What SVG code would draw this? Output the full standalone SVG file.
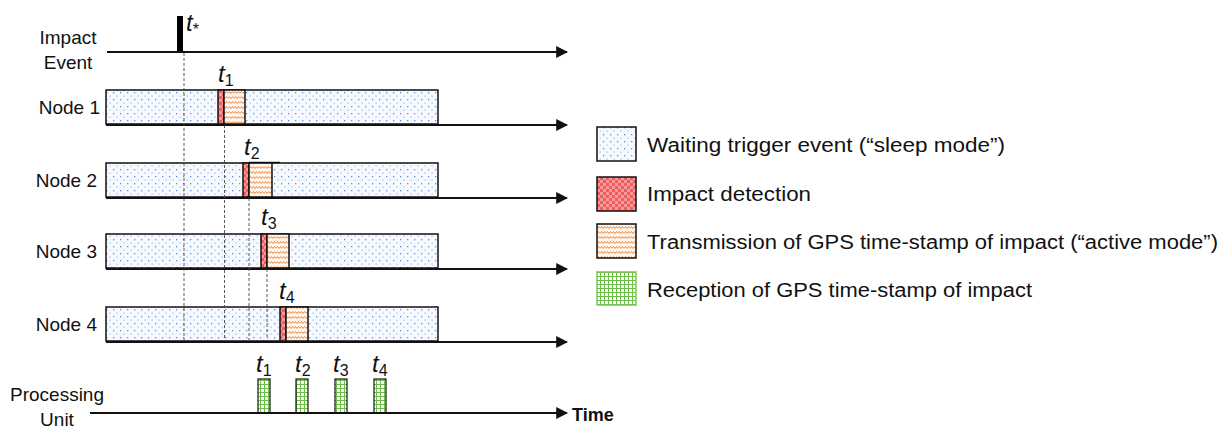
<svg xmlns="http://www.w3.org/2000/svg" width="1226" height="430" viewBox="0 0 1226 430">
<style>
.lbl{font-family:"Liberation Sans",Arial,sans-serif;font-size:19px;fill:#111}
.leg{font-family:"Liberation Sans",Arial,sans-serif;font-size:20px;fill:#111}
.tl{font-family:"Liberation Sans",Arial,sans-serif;font-style:italic;font-size:24px;fill:#111}
.sub{font-style:normal;font-size:16px}
.box{stroke:#111;stroke-width:1.5}
.sleep{fill:url(#pDots)}
.det{fill:url(#pRed)}
.tx{fill:url(#pWave)}
.rx{fill:url(#pGrid);stroke:#111;stroke-width:1.2}
.axis{stroke:#111;stroke-width:2;fill:none}
.dash{stroke:#444;stroke-width:0.9;stroke-dasharray:3 2;fill:none}
</style>
<defs>
<pattern id="pDots" width="7" height="7" patternUnits="userSpaceOnUse">
<rect width="7" height="7" fill="#f6f9fe"/>
<rect x="1" y="1" width="1.3" height="1.3" fill="#5f8fd8"/>
<rect x="4.5" y="4.5" width="1.2" height="1.2" fill="#9bb8e8"/>
</pattern>
<pattern id="pRed" width="6" height="6" patternUnits="userSpaceOnUse">
<rect width="6" height="6" fill="#f25b5b"/>
<rect width="3" height="3" fill="#f79a9a"/>
<rect x="3" y="3" width="3" height="3" fill="#f79a9a"/>
</pattern>
<pattern id="pWave" width="6" height="5" patternUnits="userSpaceOnUse">
<rect width="6" height="5" fill="#fff6ef"/>
<path d="M0 3.5 L1.5 1.5 L3 3.5 L4.5 1.5 L6 3.5" stroke="#ee8a3f" stroke-width="1" fill="none"/>
</pattern>
<pattern id="pGrid" width="4" height="4" patternUnits="userSpaceOnUse">
<rect width="4" height="4" fill="#fafff7"/>
<path d="M0 0.5 H4 M0.5 0 V4" stroke="#6cbd4a" stroke-width="1"/>
</pattern>
<marker id="arr" viewBox="0 0 10 10" refX="9" refY="5" markerWidth="6" markerHeight="6" orient="auto" markerUnits="strokeWidth">
<path d="M0 0 L10 5 L0 10 Z" fill="#111"/>
</marker>
</defs>

<g id="impact-event">
<text class="lbl" x="68" y="44" text-anchor="middle">Impact</text>
<text class="lbl" x="68" y="69" text-anchor="middle">Event</text>
<rect x="177" y="16" width="6" height="37" fill="#000"/>
<text class="tl" x="186" y="31">t<tspan class="sub" dy="4">*</tspan></text>
</g>

<g id="node1">
<text class="lbl" x="100" y="114" text-anchor="end">Node 1</text>
<rect class="box sleep" x="106" y="90" width="332" height="34"/>
<rect class="box det" x="218" y="90" width="6" height="34"/>
<rect class="box tx" x="224" y="90" width="21" height="34"/>
<text class="tl" x="218" y="82">t<tspan class="sub" dy="4">1</tspan></text>
</g>

<g id="node2">
<text class="lbl" x="97" y="187" text-anchor="end">Node 2</text>
<rect class="box sleep" x="106" y="163" width="332" height="34"/>
<rect class="box det" x="243" y="163" width="6" height="34"/>
<rect class="box tx" x="249" y="163" width="23" height="34"/>
<line x1="249" y1="162.5" x2="280" y2="162.5" stroke="#111" stroke-width="1.5"/>
<text class="tl" x="244" y="155">t<tspan class="sub" dy="4">2</tspan></text>
</g>

<g id="node3">
<text class="lbl" x="97" y="258" text-anchor="end">Node 3</text>
<rect class="box sleep" x="106" y="234" width="332" height="34"/>
<rect class="box det" x="261" y="234" width="6" height="34"/>
<rect class="box tx" x="267" y="234" width="22" height="34"/>
<text class="tl" x="261" y="225">t<tspan class="sub" dy="4">3</tspan></text>
</g>

<g id="node4">
<text class="lbl" x="97" y="331" text-anchor="end">Node 4</text>
<rect class="box sleep" x="106" y="307" width="332" height="34"/>
<rect class="box det" x="280" y="307" width="6" height="34"/>
<rect class="box tx" x="286" y="307" width="22" height="34"/>
<text class="tl" x="279" y="299">t<tspan class="sub" dy="4">4</tspan></text>
</g>

<g id="processing-unit">
<text class="lbl" x="57" y="401" text-anchor="middle">Processing</text>
<text class="lbl" x="57" y="426" text-anchor="middle">Unit</text>
<rect class="rx" x="258" y="379" width="12" height="34"/>
<rect class="rx" x="296" y="379" width="12" height="34"/>
<rect class="rx" x="335" y="379" width="12" height="34"/>
<rect class="rx" x="374" y="379" width="12" height="34"/>
<text class="tl" x="256" y="372">t<tspan class="sub" dy="4">1</tspan></text>
<text class="tl" x="295" y="372">t<tspan class="sub" dy="4">2</tspan></text>
<text class="tl" x="333" y="372">t<tspan class="sub" dy="4">3</tspan></text>
<text class="tl" x="372" y="372">t<tspan class="sub" dy="4">4</tspan></text>
<text x="572" y="421" style="font-family:'Liberation Sans',Arial,sans-serif;font-size:18px;font-weight:bold;fill:#111">Time</text>
</g>

<g id="connectors">
<line class="axis" x1="107" y1="52" x2="567" y2="52" marker-end="url(#arr)"/>
<line class="axis" x1="106" y1="125" x2="567" y2="125" marker-end="url(#arr)"/>
<line class="axis" x1="106" y1="198" x2="567" y2="198" marker-end="url(#arr)"/>
<line class="axis" x1="106" y1="269" x2="567" y2="269" marker-end="url(#arr)"/>
<line class="axis" x1="106" y1="342" x2="567" y2="342" marker-end="url(#arr)"/>
<line class="axis" x1="90" y1="413" x2="567" y2="413" marker-end="url(#arr)"/>
<line class="dash" x1="184" y1="53" x2="184" y2="341"/>
<line class="dash" x1="224.5" y1="125" x2="224.5" y2="341"/>
<line class="dash" x1="249" y1="198" x2="249" y2="341"/>
<line class="dash" x1="267" y1="269" x2="267" y2="339"/>
</g>

<g id="legend">
<rect class="box sleep" x="597" y="127" width="39" height="34"/>
<text class="leg" x="647" y="152" textLength="358" lengthAdjust="spacingAndGlyphs">Waiting trigger event (“sleep mode”)</text>
<rect class="box det" x="597" y="177" width="39" height="34"/>
<text class="leg" x="647" y="201" textLength="164" lengthAdjust="spacingAndGlyphs">Impact detection</text>
<rect class="box tx" x="597" y="224" width="39" height="34"/>
<text class="leg" x="647" y="249" textLength="571" lengthAdjust="spacingAndGlyphs">Transmission of GPS time-stamp of impact (“active mode”)</text>
<rect x="597" y="272" width="39" height="33" fill="url(#pGrid)" stroke="#7cc35a" stroke-width="1.5"/>
<text class="leg" x="647" y="297" textLength="385" lengthAdjust="spacingAndGlyphs">Reception of GPS time-stamp of impact</text>
</g>
</svg>
